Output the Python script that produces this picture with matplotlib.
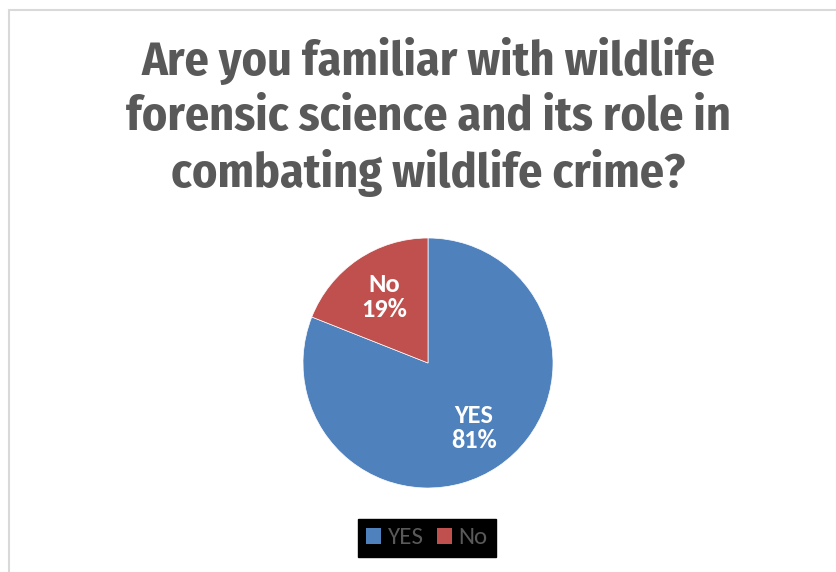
import matplotlib
matplotlib.use("Agg")
import matplotlib.pyplot as plt
from matplotlib.patches import Rectangle

categories = ["YES", "No"]
values = [81, 19]
colors = ["#4F81BD", "#C0504D"]
title = "Are you familiar with wildlife\nforensic science and its role in\ncombating wildlife crime?"

title_font = ["Fira Sans Condensed", "Liberation Sans Narrow", "DejaVu Sans"]
body_font = ["Carlito", "Liberation Sans", "DejaVu Sans"]

fig = plt.figure(figsize=(8.36, 5.72), dpi=100)
fig.patch.set_facecolor("white")

# chart border (top & left visible)
fig.add_artist(Rectangle((9/836, -0.1), 1.1, (572-9.5)/572 + 0.1, transform=fig.transFigure,
                         fill=False, edgecolor="#D9D9D9", linewidth=1.5))

fig.text(428/836, 1 - 118/572, title, ha="center", va="center", fontsize=34.5,
         fontweight="bold", fontstretch="condensed", color="#595959", family=title_font,
         linespacing=1.25)

r = 125
cx, cy = 428, 363
ax = fig.add_axes([(cx - r)/836, 1 - (cy + r)/572, 2*r/836, 2*r/572])
wedges, _ = ax.pie(values, colors=colors, startangle=90, counterclock=False,
                   wedgeprops=dict(edgecolor="white", linewidth=0.5))
ax.set_xlim(-1, 1); ax.set_ylim(-1, 1)
ax.set_aspect("equal")
ax.axis("off")

label_pos = [(474, 428), (384, 297)]
for cat, v, (lx, ly) in zip(categories, values, label_pos):
    fig.text(lx/836, 1 - ly/572, f"{cat}\n{v}%", ha="center", va="center", fontsize=19,
             fontweight="bold", color="white", family=body_font, linespacing=1.15)

# legend with dark background
leg = fig.legend(wedges, categories, loc="center", bbox_to_anchor=(427/836, 1 - 538/572),
                 ncol=2, frameon=True, handlelength=0.6, handleheight=0.6,
                 handletextpad=0.25, columnspacing=0.55, borderpad=0.35, framealpha=1,
                 prop=dict(family=body_font, size=18))
leg.get_frame().set_facecolor("black")
leg.get_frame().set_edgecolor("black")
leg.get_frame().set_boxstyle("square", pad=0)
for t in leg.get_texts():
    t.set_color("#595959")
for h in leg.legend_handles:
    h.set_edgecolor("none")

fig.savefig("out.png", dpi=100, facecolor="white")
